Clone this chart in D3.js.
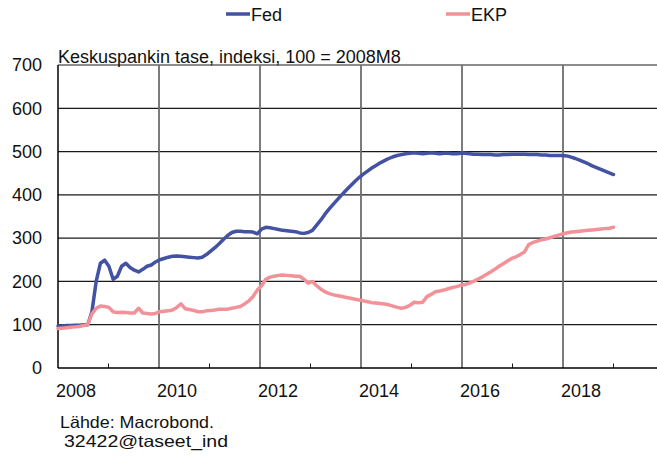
<!DOCTYPE html>
<html>
<head>
<meta charset="utf-8">
<script src="https://cdn.jsdelivr.net/npm/d3@7"></script>
<style>
  html, body { margin: 0; padding: 0; background: #fff; }
  svg { display: block; font-family: "Liberation Sans", Arial, sans-serif; }
</style>
</head>
<body>
<svg id="chart" width="657" height="463"></svg>
<script>
// ---- Data (monthly, 2008M1 .. 2018M12) ----
const startYear = 2008;
const endYear = 2019;
const fed = [
  97, 97, 98, 98, 99, 99, 100, 100, 130, 200, 242, 249,
  235, 205, 212, 235, 242, 232, 226, 222, 228, 235, 238, 245,
  250, 253, 256, 258, 259, 258, 257, 256, 255, 254, 256, 262,
  270, 278, 287, 297, 306, 313, 316, 316, 315, 315, 314, 310,
  321, 325, 324, 322, 320, 318, 317, 316, 315, 312, 311, 313,
  318, 330, 342, 356, 368, 379, 390, 401, 411, 421, 431, 440,
  448, 455, 462, 468, 474, 479, 484, 488, 491, 493, 495, 496,
  497, 496, 495, 496, 497, 496, 495, 496, 496, 495, 495, 496,
  496, 495, 494, 494, 493, 493, 493, 492, 492, 493, 493, 494,
  494, 494, 494, 493, 493, 493, 492, 492, 491, 491, 491, 491,
  490, 487, 484, 480, 476, 472, 467, 463, 459, 455, 451, 447
];
const ekp = [
  91, 92, 93, 94, 95, 96, 98, 100, 125, 138, 143, 142,
  140, 130, 128, 129, 128, 127, 127, 138, 127, 126, 125, 126,
  130, 131, 132, 134, 140, 148, 137, 135, 133, 130, 130, 132,
  133, 134, 136, 136, 136, 138, 140, 142, 148, 155, 165, 180,
  190, 205, 210, 212, 214, 215, 214, 213, 212, 212, 205, 196,
  200, 190, 182, 176, 172, 169, 167, 165, 163, 161, 159, 157,
  155, 153, 151, 150, 149, 148, 146, 143, 140, 138, 140, 145,
  152, 151, 152, 165, 170, 176, 178, 180, 183, 186, 188, 191,
  193, 196, 200, 205, 210, 216, 222, 228, 235, 241, 247, 253,
  257, 262, 268, 285, 290, 293, 296, 298, 301, 304, 307, 310,
  312, 314, 315, 316, 317, 318, 319, 320, 321, 322, 323, 325
];
const seriesNames = ["Fed", "EKP"];
const seriesColors = ["#4352a2", "#f29298"];
const yTicks = [0, 100, 200, 300, 400, 500, 600, 700];
const gridYears = [2008, 2010, 2012, 2014, 2016, 2018];
const minorYears = [2009, 2011, 2013, 2015, 2017, 2019];
const xLabels = ["2008", "2010", "2012", "2014", "2016", "2018"];
const title = "Keskuspankin tase, indeksi, 100 = 2008M8";
const source = ["Lähde: Macrobond.", "32422@taseet_ind"];

(function () {
const svg = d3.select("#chart");
const mLeft = 58, mTop = 65, mBottom = 368, mRight = 664;
const FS = 18;

const x = d3.scaleLinear().domain([2008, 2020]).range([mLeft, mRight]);
const y = d3.scaleLinear().domain([0, 700]).range([mBottom, mTop]);

const n = fed.length;
const tOf = i => startYear + i * (endYear - startYear) / (n - 1);

// horizontal grid
svg.append("g").selectAll("line").data(yTicks.filter(v => v > 0)).join("line")
  .attr("x1", mLeft).attr("x2", 657)
  .attr("y1", d => y(d)).attr("y2", d => y(d))
  .attr("stroke", "#1a1a1a").attr("stroke-width", 1.2);

// vertical grid
svg.append("g").selectAll("line").data(gridYears.filter(v => v > 2008)).join("line")
  .attr("x1", d => x(d)).attr("x2", d => x(d))
  .attr("y1", mTop).attr("y2", mBottom)
  .attr("stroke", "#6e6e6e").attr("stroke-width", 1.8);

// minor ticks (inward)
svg.append("g").selectAll("line").data(minorYears).join("line")
  .attr("x1", d => x(d)).attr("x2", d => x(d))
  .attr("y1", mBottom - 4.5).attr("y2", mBottom)
  .attr("stroke", "#1a1a1a").attr("stroke-width", 1);

// axes lines
svg.append("line").attr("x1", mLeft).attr("x2", mLeft).attr("y1", mTop).attr("y2", mBottom)
  .attr("stroke", "#000").attr("stroke-width", 1.5);
svg.append("line").attr("x1", mLeft).attr("x2", 657).attr("y1", mBottom).attr("y2", mBottom)
  .attr("stroke", "#000").attr("stroke-width", 1.5);

// y tick labels
svg.append("g").selectAll("text").data(yTicks).join("text")
  .attr("x", 42).attr("y", d => y(d)).attr("dy", "0.35em")
  .attr("text-anchor", "end").attr("font-size", FS).attr("fill", "#111")
  .text(d => d);

// x labels
svg.append("g").selectAll("text").data(xLabels).join("text")
  .attr("x", d => x(+d) - 2).attr("y", 397)
  .attr("text-anchor", "start").attr("font-size", FS).attr("fill", "#111")
  .text(d => d);

// title
svg.append("text").attr("x", 58).attr("y", 62.5)
  .attr("font-size", FS).attr("fill", "#111")
  .text(title);

// lines
const line = d3.line().x((d, i) => x(tOf(i))).y(d => y(d));
[fed, ekp].forEach((s, k) => {
  svg.append("path").datum(s)
    .attr("fill", "none")
    .attr("stroke", seriesColors[k])
    .attr("stroke-width", 3.5)
    .attr("stroke-linejoin", "round")
    .attr("stroke-linecap", "round")
    .attr("d", line);
});

// legend
const legendX = [226, 446];
seriesNames.forEach((name, k) => {
  const lx = legendX[k];
  svg.append("line").attr("x1", lx).attr("x2", lx + 24)
    .attr("y1", 14).attr("y2", 14)
    .attr("stroke", seriesColors[k]).attr("stroke-width", 3.5);
  svg.append("text").attr("x", lx + 25).attr("y", 20.5)
    .attr("font-size", FS).attr("fill", "#111")
    .text(name);
});

// source
svg.append("text").attr("x", 60).attr("y", 427.5)
  .attr("font-size", 16.5).attr("fill", "#111")
  .attr("textLength", 154).attr("lengthAdjust", "spacingAndGlyphs")
  .text(source[0]);
svg.append("text").attr("x", 64).attr("y", 446.5)
  .attr("font-size", 16.5).attr("fill", "#111")
  .attr("textLength", 164).attr("lengthAdjust", "spacingAndGlyphs")
  .text(source[1]);
})();
</script>
</body>
</html>
